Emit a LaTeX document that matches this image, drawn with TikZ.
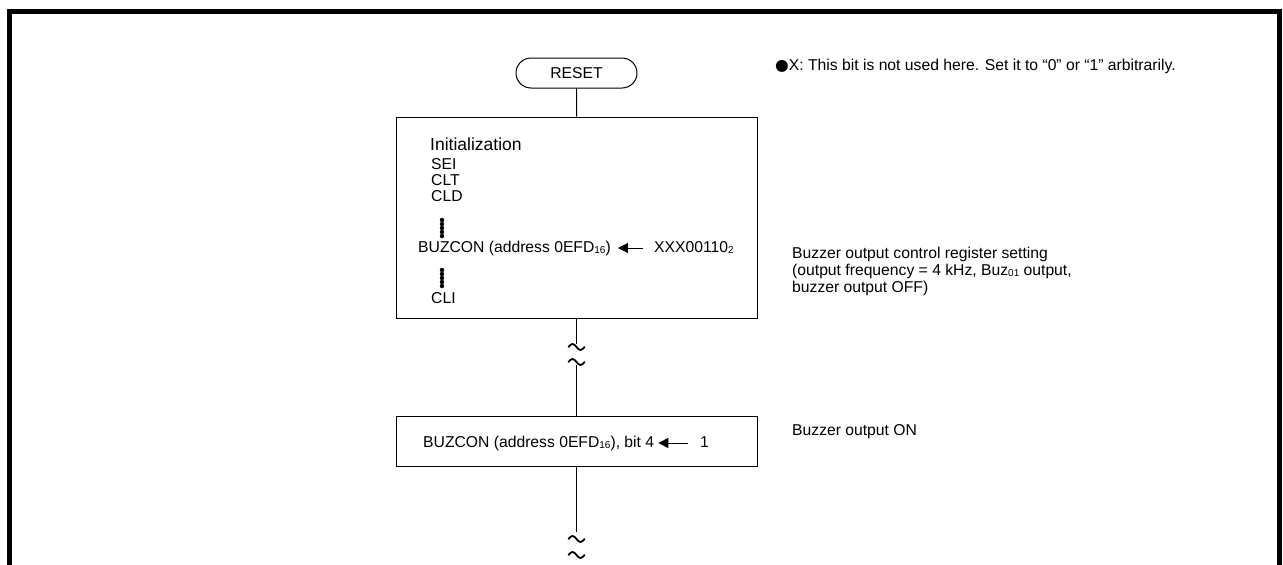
\documentclass[tikz,border=0pt]{standalone}
\usepackage{fontspec}
\setmainfont{Liberation Sans}
\newfontfamily\symfont{DejaVu Sans}
\usepackage{tikz}
\usetikzlibrary{arrows.meta,shapes.misc}
\newcommand{\sub}[1]{\raisebox{-1pt}{\fontsize{10}{10}\selectfont #1}}
\tikzset{
	txt/.style={font=\fontsize{15.7}{16}\selectfont, inner sep=0pt, anchor=base west, text height=11pt, text depth=3pt},
	stepbox/.style={draw, line width=1pt, inner sep=0pt},
	brk/.pic={\draw[line width=1.8pt, line cap=round] (-8,0) sin (-4,-3) cos (0,0) sin (4,3) cos (8,0);},
	setarrow/.style={-{Triangle[length=10pt,width=10pt]}, line width=1pt}
}

\begin{document}
\begin{tikzpicture}[x=1pt,y=-1pt]
		\useasboundingbox (0,0) rectangle (1283,565);
		% frame, open at the bottom
		\draw[line width=5pt] (9,570) -- (9,11.5) -- (1279.5,11.5) -- (1279.5,570);
		\node[draw, line width=1pt, rounded rectangle, minimum width=121pt, minimum height=30pt, inner sep=0pt, font=\fontsize{15.7}{16}\selectfont] (reset) at (576.5,73) {RESET};
		\node[stepbox, minimum width=361pt, minimum height=201pt] (init) at (576.5,217.5) {};
		\node[stepbox, minimum width=361pt, minimum height=50pt] (buzon) at (576.5,441) {};
		\coordinate (cut1) at (576.5,344);
		\coordinate (cut2) at (576.5,365);
		\coordinate (cut3) at (576.5,532);
		\draw[line width=1pt] (reset) -- (init);
		\draw[line width=1pt] (init) -- (cut1);
		\draw[line width=1pt] (cut2) -- (buzon);
		\draw[line width=1pt] (buzon) -- (cut3);
		\pic at (576.5,347) {brk};
		\pic at (576.5,362) {brk};
		\pic at (576.5,539) {brk};
		\pic at (576.5,555) {brk};
		% initialization block
		\node[txt, font=\fontsize{17.5}{18}\selectfont] (initlbl) at (430,150) {Initialization};
		\node[txt] (sei) at (431,169) {SEI};
		\node[txt] (clt) at (431,185) {CLT};
		\node[txt] (cld) at (431,201) {CLD};
		\foreach \y in {220,224,...,236} \filldraw[black] (442,\y) circle (2pt);
		\node[txt] (buzcon) at (418,252) {BUZCON (address 0EFD\sub{16})};
		\node[txt] (xval) at (654,252) {XXX00110\sub{2}};
		\draw[setarrow, shorten >=7pt, shorten <=11pt] (xval.west) -- (buzcon.east);
		\foreach \y in {270,274,...,286} \filldraw[black] (442,\y) circle (2pt);
		\node[txt] (cli) at (431,303) {CLI};
		% buzzer on
		\node[txt] (bitfour) at (423,447) {BUZCON (address 0EFD\sub{16}), bit 4};
		\node[txt] (one) at (700,447) {1};
		\draw[setarrow, shorten >=4pt, shorten <=12pt] (one.west) -- (bitfour.east);
		% notes on the right
		\node[txt] (note) at (775,70) {{\symfont ●}X: This bit is not used here. Set it to “0” or “1” arbitrarily.};
		\node[inner sep=0pt, anchor=north west, align=left, font=\fontsize{15.7}{17}\selectfont] (regnote) at (792,247) {Buzzer output control register setting\\(output frequency = 4 kHz, Buz\sub{01} output,\\buzzer output OFF)};
		\node[txt] (buzzeron) at (792,435) {Buzzer output ON};
\end{tikzpicture}
\end{document}
